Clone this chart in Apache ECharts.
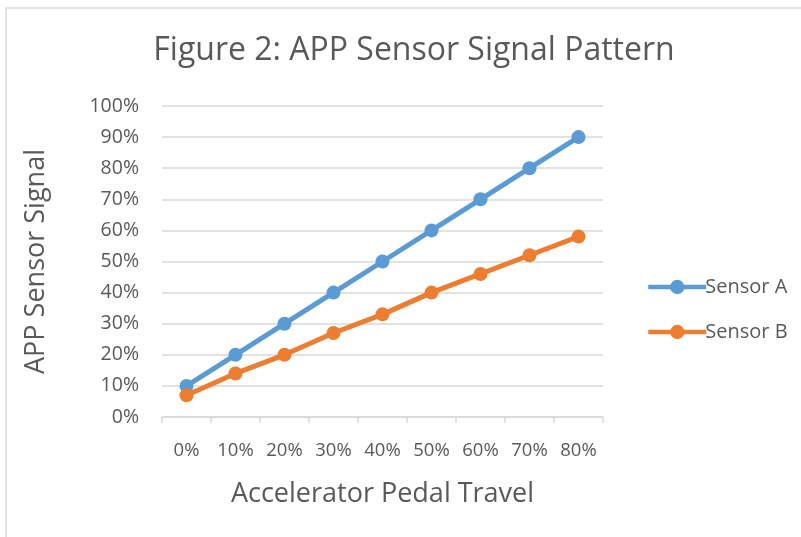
<!DOCTYPE html>
<html><head><meta charset="utf-8">
<script src="https://cdn.jsdelivr.net/npm/echarts@6/dist/echarts.min.js"></script>
<style>html,body{margin:0;padding:0;background:#fff}#c{width:801px;height:537px}</style>
</head><body><div id="c"></div>
<script>
var categories = ['0%','10%','20%','30%','40%','50%','60%','70%','80%'];
var sensorA = [10,20,30,40,50,60,70,80,90];
var sensorB = [7,14,20,27,33,40,46,52,58];
var yTicks = [0,10,20,30,40,50,60,70,80,90,100];
var FONT = 'Open Sans';
var chart = echarts.init(document.getElementById('c'));
chart.setOption({
  animation:false,
  textStyle:{fontFamily:FONT},
  graphic:[{type:'rect',shape:{x:6,y:8,width:800,height:540},style:{fill:'none',stroke:'#d9d9d9',lineWidth:1.5},silent:true}],
  title:{text:'Figure 2: APP Sensor Signal Pattern',left:409,textAlign:'center',top:30,
    textStyle:{fontFamily:FONT,fontSize:32,fontWeight:'normal',color:'#595959'}},
  legend:{orient:'vertical',left:641,top:272,itemGap:25,itemWidth:58,itemHeight:18,
    textStyle:{fontFamily:FONT,fontSize:20,color:'#595959',padding:[0,0,0,-6]},
    lineStyle:{width:4.5},
    data:['Sensor A','Sensor B']},
  grid:{left:162,right:198,top:106,bottom:120},
  xAxis:{type:'category',data:categories,boundaryGap:true,
    name:'Accelerator Pedal Travel',nameLocation:'middle',nameGap:64,
    nameTextStyle:{fontFamily:FONT,fontSize:27,color:'#595959'},
    axisLine:{lineStyle:{color:'#d9d9d9',width:1.5}},
    axisTick:{show:true,length:6,lineStyle:{color:'#d9d9d9',width:1.5}},
    axisLabel:{fontFamily:FONT,fontSize:18.5,color:'#595959',margin:24}},
  yAxis:{type:'value',min:0,max:100,interval:10,
    name:'APP Sensor Signal',nameLocation:'middle',nameGap:112,
    nameTextStyle:{fontFamily:FONT,fontSize:27,color:'#595959'},
    axisLine:{show:false},axisTick:{show:false},
    splitLine:{lineStyle:{color:'#d9d9d9',width:1.5}},
    axisLabel:{fontFamily:FONT,fontSize:19.5,color:'#595959',margin:23,
      formatter:function(v){return yTicks.indexOf(v)>=0? v+'%':'';}}},
  series:[
    {name:'Sensor A',type:'line',data:sensorA,symbol:'circle',symbolSize:14,
     lineStyle:{color:'#5B9BD5',width:5},itemStyle:{color:'#5B9BD5'}},
    {name:'Sensor B',type:'line',data:sensorB,symbol:'circle',symbolSize:14,
     lineStyle:{color:'#ED7D31',width:5},itemStyle:{color:'#ED7D31'}}
  ]
});
</script></body></html>
